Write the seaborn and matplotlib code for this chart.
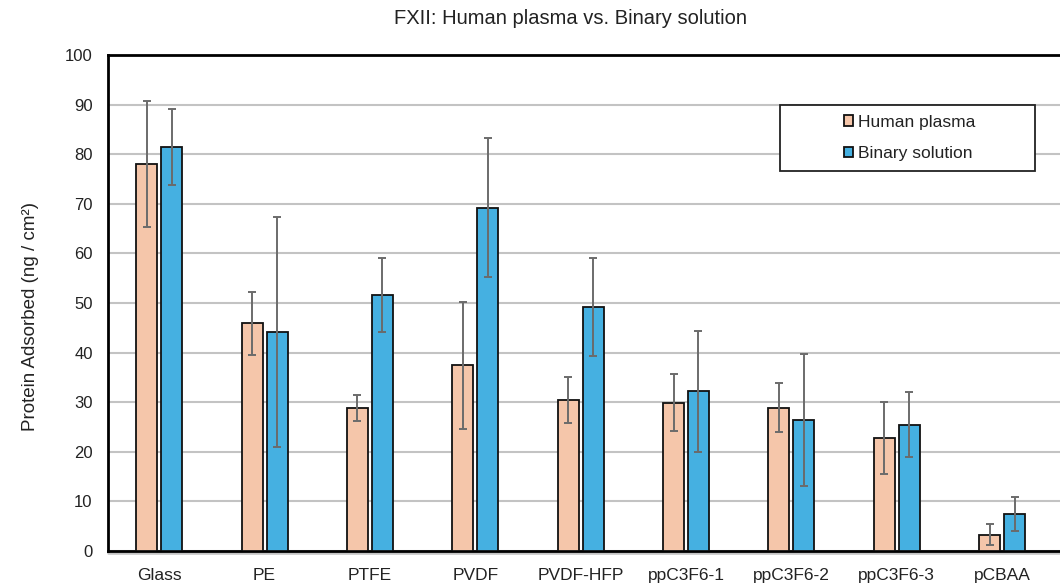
import numpy as np
import pandas as pd
import matplotlib
matplotlib.use("Agg")
import matplotlib.pyplot as plt
import matplotlib.transforms as mtransforms
from matplotlib.patches import Rectangle
from matplotlib.lines import Line2D
import seaborn as sns

categories = ["Glass", "PE", "PTFE", "PVDF", "PVDF-HFP",
              "ppC3F6-1", "ppC3F6-2", "ppC3F6-3", "pCBAA"]
series_names = ["Human plasma", "Binary solution"]
plasma_mean = [78.0, 45.9, 28.9, 37.4, 30.5, 29.9, 28.9, 22.8, 3.3]
plasma_err = [12.7, 6.3, 2.6, 12.8, 4.6, 5.8, 5.0, 7.3, 2.1]
binary_mean = [81.4, 44.1, 51.6, 69.2, 49.2, 32.2, 26.4, 25.5, 7.5]
binary_err = [7.7, 23.2, 7.5, 14.0, 9.9, 12.2, 13.3, 6.6, 3.4]
y_ticks = [0, 10, 20, 30, 40, 50, 60, 70, 80, 90, 100]

ORANGE = "#F5C6AA"
BLUE = "#45B0E1"
ERR = "#6B6B6B"
GRID = "#C3C3C3"
TXT = "#222222"

sns.set_theme(style="white")
plt.rcParams["font.family"] = ["Liberation Sans", "DejaVu Sans"]

df = pd.DataFrame({
    "Material": categories * 2,
    "Adsorbed": plasma_mean + binary_mean,
    "Sample": [series_names[0]] * len(categories) + [series_names[1]] * len(categories),
})

fig = plt.figure(figsize=(10.6, 5.83), dpi=100)
ax = fig.add_axes([108 / 1060, 32 / 583, 952 / 1060, 496 / 583])

sns.barplot(data=df, x="Material", y="Adsorbed", hue="Sample",
            order=categories, hue_order=series_names,
            palette=[ORANGE, BLUE], saturation=1, errorbar=None,
            width=0.474, gap=0.16,
            edgecolor="#111111", linewidth=1.3, zorder=3, legend=False, ax=ax)

bar_conts = list(ax.containers[:2])
for cont, errs in zip(bar_conts, [plasma_err, binary_err]):
    xs = [p.get_x() + p.get_width() / 2 for p in cont]
    hs = [p.get_height() for p in cont]
    ax.errorbar(xs, hs, yerr=errs, fmt="none", ecolor=ERR, elinewidth=1.4,
                capsize=3, capthick=1.4, zorder=4)

ax.set_xlim(-0.486, 8.55)
ax.set_ylim(0, 100)
ax.set_yticks(y_ticks)
ax.set_axisbelow(True)
ax.yaxis.grid(True, color=GRID, linewidth=1.5)
ax.xaxis.grid(False)

for side in ["left", "top", "bottom"]:
    ax.spines[side].set_color("black")
    ax.spines[side].set_linewidth(2.0)
    ax.spines[side].set_zorder(2.5)
ax.spines["right"].set_visible(False)

# gray axis line just below the bottom border
off = mtransforms.offset_copy(ax.transAxes, fig=fig, x=0, y=-2.2, units="dots")
ax.add_line(Line2D([0, 1], [0, 0], transform=off, color=GRID, linewidth=1.8,
                   clip_on=False, zorder=2))

ax.tick_params(axis="both", length=0)
ax.tick_params(axis="y", pad=11, labelsize=12, labelcolor=TXT)
ax.tick_params(axis="x", pad=12.5, labelsize=12.5, labelcolor=TXT)
ax.set_xlabel("")
ax.set_ylabel("Protein Adsorbed (ng / cm²)", fontsize=13.5, color=TXT, labelpad=19)
ax.yaxis.label.set_y(0.472)

# legend box
ax.add_patch(Rectangle((0.706, 0.766), 0.268, 0.133, transform=ax.transAxes,
                       facecolor="white", edgecolor="#222222", linewidth=1.3,
                       zorder=5, clip_on=False))
leg = ax.legend(bar_conts, series_names, loc="center",
                bbox_to_anchor=(0.842, 0.833), frameon=False, fontsize=12.5,
                handlelength=0.55, handleheight=0.55, handletextpad=0.3,
                labelspacing=0.95, borderaxespad=0, labelcolor=TXT)
leg.set_zorder(6)

fig.text(570 / 1060, 1 - 19 / 583, "FXII: Human plasma vs. Binary solution",
         ha="center", va="center", fontsize=14.5, color=TXT)

fig.savefig("out.png", dpi=100)
